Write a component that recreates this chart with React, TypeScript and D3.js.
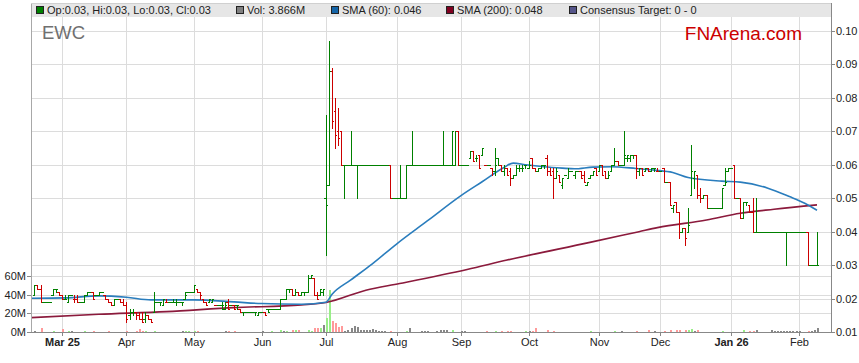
import * as d3 from "d3";

// first bar: Tue 18 Feb 2025, one bar per weekday
const START_DATE = new Date(2025, 1, 18);

// daily bars [open, high, low, close] in 0.001 A$
const OHLC_FEB25 = [
  [21, 24, 21, 24], [24, 24, 23, 23], [23, 24, 19, 19], [19, 19, 19, 19], [19, 19, 19, 19],
  [19, 19, 19, 19], [21, 23, 21, 23], [23, 23, 22, 23], [22, 22, 21, 21],
];
const OHLC_MAR25 = [
  [21, 21, 20, 20], [20, 21, 20, 20], [19, 21, 19, 21], [21, 21, 21, 21], [20, 21, 19, 20],
  [20, 21, 19, 19], [19, 19, 19, 19], [19, 21, 19, 21], [21, 22, 21, 22], [22, 22, 22, 22],
  [22, 22, 20, 20], [21, 21, 21, 21], [21, 22, 21, 22], [22, 22, 22, 22], [21, 21, 20, 20],
  [20, 20, 19, 19], [19, 19, 18, 18], [18, 20, 18, 20], [20, 20, 20, 20], [20, 20, 19, 19],
  [19, 20, 18, 18],
];
const OHLC_APR25 = [
  [18, 19, 13, 14], [15, 17, 14, 16], [16, 17, 15, 16], [16, 16, 14, 15], [15, 16, 14, 14],
  [14, 16, 13, 13], [14, 16, 13, 15], [15, 15, 14, 14], [14, 14, 13, 13], [16, 22, 16, 19],
  [19, 19, 19, 19], [19, 19, 18, 19], [18, 20, 18, 20], [19, 20, 19, 19], [19, 19, 19, 19],
  [19, 20, 19, 19], [19, 20, 18, 19], [19, 19, 19, 19], [19, 19, 18, 19], [20, 22, 20, 21],
  [22, 22, 22, 22], [22, 22, 22, 22],
];
const OHLC_MAY25 = [
  [22, 24, 22, 24], [23, 23, 22, 22], [22, 22, 20, 21], [20, 20, 19, 19], [19, 19, 18, 18],
  [19, 20, 19, 20], [19, 20, 19, 20], [18, 18, 18, 18], [18, 18, 18, 18], [18, 19, 17, 18],
  [17, 19, 17, 18], [19, 20, 17, 17], [18, 18, 18, 18], [18, 18, 17, 17], [18, 18, 17, 18],
  [17, 17, 16, 16], [16, 16, 15, 16], [16, 16, 16, 16], [16, 16, 16, 16], [16, 16, 16, 16],
  [16, 16, 15, 16], [15, 16, 15, 16],
];
const OHLC_JUN25 = [
  [16, 16, 16, 16], [16, 16, 15, 15], [17, 17, 16, 16], [17, 17, 17, 17], [17, 17, 17, 17],
  [17, 17, 17, 17], [17, 20, 17, 20], [20, 20, 20, 20], [20, 23, 20, 23], [23, 23, 22, 23],
  [23, 23, 21, 21], [21, 23, 21, 22], [22, 22, 21, 21], [21, 22, 21, 22], [22, 22, 21, 22],
  [22, 27, 22, 26], [26, 27, 26, 27], [26, 26, 21, 21], [21, 22, 20, 20], [21, 23, 21, 23],
  [22, 23, 21, 23],
];
const OHLC_JUL25 = [
  [50, 75, 33, 48], [54, 97, 54, 88], [88, 89, 71, 73], [76, 80, 65, 69], [70, 77, 66, 68],
  [70, 70, 60, 60], [60, 60, 50, 60], [60, 60, 60, 60], [60, 70, 60, 60], [60, 60, 60, 60],
  [60, 60, 50, 60], [60, 60, 60, 60], [60, 60, 60, 60], [60, 60, 60, 60], [60, 60, 60, 60],
  [60, 60, 60, 60], [60, 60, 60, 60], [60, 60, 60, 60], [60, 60, 60, 60], [60, 60, 60, 60],
  [60, 60, 60, 60], [60, 60, 50, 50], [50, 50, 50, 50],
];
const OHLC_AUG25 = [
  [50, 50, 50, 50], [50, 60, 50, 50], [50, 50, 50, 50], [50, 60, 50, 60], [60, 60, 60, 60],
  [60, 70, 60, 60], [60, 60, 60, 60], [60, 60, 60, 60], [60, 60, 60, 60], [60, 60, 60, 60],
  [60, 60, 60, 60], [60, 60, 60, 60], [60, 60, 60, 60], [60, 60, 60, 60], [60, 60, 60, 60],
  [60, 70, 60, 60], [60, 60, 60, 60], [60, 60, 60, 60], [60, 70, 60, 70], [60, 70, 60, 70],
  [70, 70, 60, 60],
];
const OHLC_SEP25 = [
  [60, 60, 60, 60], [60, 60, 60, 60], [60, 60, 60, 60], [62, 64, 62, 64], [64, 64, 61, 61],
  [62, 63, 61, 62], [63, 63, 59, 59], [63, 65, 63, 65], [60, 60, 60, 60], [60, 60, 60, 60],
  [59, 59, 57, 58], [58, 65, 57, 60], [62, 62, 60, 60], [60, 60, 58, 58], [58, 60, 57, 59],
  [59, 59, 57, 57], [58, 59, 54, 56], [56, 57, 56, 57], [57, 60, 57, 59], [59, 60, 58, 59],
  [59, 60, 58, 59], [60, 60, 59, 60],
];
const OHLC_OCT25 = [
  [59, 61, 59, 60], [62, 62, 59, 59], [59, 59, 58, 58], [58, 59, 58, 59], [59, 60, 59, 60],
  [60, 60, 59, 60], [62, 63, 57, 58], [58, 59, 57, 57], [58, 59, 50, 56], [56, 59, 56, 58],
  [57, 57, 55, 55], [54, 56, 53, 56], [57, 57, 57, 57], [56, 59, 56, 58], [58, 58, 58, 58],
  [57, 58, 56, 58], [58, 58, 58, 58], [58, 58, 56, 56], [57, 58, 55, 55], [54, 55, 54, 55],
  [56, 57, 56, 57], [57, 58, 57, 58], [59, 59, 57, 57],
];
const OHLC_NOV25 = [
  [58, 60, 58, 60], [60, 60, 57, 57], [58, 58, 56, 56], [56, 58, 56, 57], [58, 60, 58, 60],
  [60, 65, 60, 61], [61, 61, 60, 60], [60, 60, 60, 60], [60, 70, 60, 63], [62, 63, 61, 63],
  [62, 63, 61, 63], [63, 63, 62, 63], [63, 63, 56, 59], [58, 59, 57, 59], [59, 59, 57, 57],
  [58, 59, 58, 59], [59, 59, 58, 58], [58, 59, 58, 59], [59, 59, 58, 59], [58, 59, 58, 58],
];
const OHLC_DEC25 = [
  [58, 58, 58, 58], [59, 59, 55, 55], [55, 55, 55, 55], [55, 55, 48, 48], [47, 48, 46, 48],
  [49, 49, 46, 46], [46, 46, 38, 40], [40, 41, 40, 41], [41, 41, 36, 38], [40, 47, 40, 42],
  [51, 66, 51, 58], [56, 58, 53, 58], [57, 57, 50, 51], [51, 53, 49, 50], [50, 51, 50, 51],
  [51, 51, 47, 47], [47, 47, 47, 47], [47, 47, 47, 47], [47, 47, 47, 47], [47, 47, 47, 47],
  [47, 53, 47, 53], [54, 59, 54, 55], [58, 59, 58, 59],
];
const OHLC_JAN26 = [
  [59, 59, 59, 59], [60, 60, 50, 50], [50, 50, 50, 50], [50, 50, 44, 44], [44, 49, 44, 49],
  [49, 49, 48, 49], [48, 48, 46, 46], [46, 50, 40, 40], [40, 50, 40, 40], [40, 40, 40, 40],
  [40, 40, 40, 40], [40, 40, 40, 40], [40, 40, 40, 40], [40, 40, 40, 40], [40, 40, 40, 40],
  [40, 40, 40, 40], [40, 40, 40, 40], [40, 40, 40, 40], [40, 40, 30, 40], [40, 40, 40, 40],
  [40, 40, 40, 40], [40, 40, 40, 40],
];
const OHLC_FEB26 = [
  [40, 40, 40, 40], [40, 40, 40, 40], [40, 40, 40, 40], [40, 40, 30, 30], [30, 30, 30, 30],
  [30, 30, 30, 30], [30, 40, 30, 30],
];

// daily volume, millions
const VOL_FEB25 = [1.0, 0.3, 4.0, 0.2, 0.2, 0.3, 1.0, 0.5, 0.3];
const VOL_MAR25 = [3.0, 0.2, 1.0, 0.8, 0.2, 0.3, 0.2, 1.0, 0.5, 0.2, 1.0, 0.3, 0.2, 0.2, 0.3, 1.0, 0.5, 0.2, 0.3, 0.2, 0.4];
const VOL_APR25 = [0.8, 0.3, 0.5, 0.6, 3.5, 0.8, 0.8, 0.3, 0.3, 1.0, 0.3, 0.2, 0.2, 0.3, 0.2, 0.2, 0.2, 0.2, 0.8, 0.8, 0.8, 0.3];
const VOL_MAY25 = [0.8, 0.8, 0.3, 0.2, 0.2, 0.3, 0.2, 0.2, 0.2, 0.3, 0.9, 0.9, 0.2, 0.8, 0.2, 0.3, 0.2, 0.2, 0.2, 0.2, 0.2, 0.3];
const VOL_JUN25 = [0.9, 0.2, 0.3, 1.0, 0.3, 0.3, 2.5, 1.0, 1.2, 0.5, 2.5, 2.0, 2.0, 0.5, 0.5, 2.5, 0.8, 4.0, 4.0, 4.0, 7.5];
const VOL_JUL25 = [15, 45, 12, 10, 5.7, 6.5, 1.4, 2.0, 4.0, 6.5, 5.7, 2.0, 2.0, 2.0, 2.0, 3.0, 2.0, 1.0, 1.0, 1.0, 0.5, 1.4, 0.2];
const VOL_AUG25 = [0.2, 0.2, 0.2, 1.4, 4.0, 0.2, 0.2, 0.2, 1.0, 1.0, 1.0, 0.2, 0.2, 1.5, 2.0, 2.0, 2.2, 0.2, 2.0, 0.3, 0.2];
const VOL_SEP25 = [1.4, 1.4, 0.2, 0.3, 0.3, 0.3, 0.3, 0.3, 1.4, 0.3, 0.3, 1.4, 0.3, 1.4, 0.3, 1.4, 1.4, 0.3, 0.3, 0.3, 0.3, 1.0];
const VOL_OCT25 = [1.0, 1.4, 4.0, 0.2, 0.2, 0.3, 2.0, 0.3, 1.4, 0.2, 0.2, 0.2, 0.2, 0.2, 0.2, 0.2, 0.2, 0.2, 0.2, 0.2, 1.4, 0.2, 0.2];
const VOL_NOV25 = [0.2, 0.2, 0.2, 0.2, 0.2, 1.4, 0.2, 1.4, 0.2, 0.2, 0.2, 0.2, 1.4, 0.2, 0.2, 0.2, 2.0, 0.2, 1.4, 0.2];
const VOL_DEC25 = [0.2, 1.4, 0.2, 2.5, 0.2, 2.5, 2.5, 0.3, 2.0, 2.0, 3.0, 1.4, 2.5, 0.3, 0.3, 0.3, 0.2, 0.2, 0.2, 0.2, 1.4, 0.2, 0.2];
const VOL_JAN26 = [0.2, 0.2, 0.2, 0.2, 2.5, 0.3, 1.4, 1.4, 2.5, 0.2, 0.2, 0.2, 0.2, 2.0, 1.4, 1.4, 1.4, 1.4, 1.4, 1.4, 1.4, 1.4];
const VOL_FEB26 = [1.4, 0.2, 0.2, 1.4, 1.4, 2.5, 3.866];

// moving averages (bar index, value in 0.001 A$)
const SMA60_POS = [-1, 10, 21, 30, 38, 52, 65, 74, 87, 95, 97, 103, 110, 118, 128, 139, 146, 153, 156, 160, 166, 172, 176, 182, 188, 196, 202, 208, 213, 224, 230, 239, 246, 251, 255];
const SMA60 = [20.1, 20.2, 20.8, 20.4, 19.6, 19.6, 19.0, 18.5, 18.3, 18.9, 21.3, 25.5, 30.3, 36.3, 43.2, 50.8, 55.0, 59.2, 60.5, 60.0, 59.4, 59.0, 58.8, 59.3, 59.4, 58.9, 58.4, 57.7, 56.2, 55.1, 54.8, 53.0, 50.5, 48.5, 46.4];
const SMA200_POS = [-1, 21, 43, 65, 87, 95, 108, 119, 141, 154, 181, 197, 203, 219, 230, 241, 255];
const SMA200 = [14.3, 15.3, 16.1, 17.3, 18.1, 18.8, 22.5, 24.5, 28.7, 31.5, 36.8, 40.0, 41.2, 43.5, 45.5, 46.7, 48.0];

const PRICE_TICKS = [0.01, 0.02, 0.03, 0.04, 0.05, 0.06, 0.07, 0.08, 0.09, 0.1];
const VOL_TICKS = [0, 20, 40, 60];

const LEGEND = [
  { x: 36, color: "#008000", text: "Op:0.03, Hi:0.03, Lo:0.03, Cl:0.03" },
  { x: 236, color: "#808080", text: "Vol: 3.866M" },
  { x: 331, color: "#1565a8", text: "SMA (60): 0.046" },
  { x: 446, color: "#800020", text: "SMA (200): 0.048" },
  { x: 569, color: "#55558a", text: "Consensus Target: 0 - 0" },
];

const OHLC = [
  ...OHLC_FEB25, ...OHLC_MAR25, ...OHLC_APR25, ...OHLC_MAY25, ...OHLC_JUN25, ...OHLC_JUL25,
  ...OHLC_AUG25, ...OHLC_SEP25, ...OHLC_OCT25, ...OHLC_NOV25, ...OHLC_DEC25, ...OHLC_JAN26, ...OHLC_FEB26,
];
const VOLUME = [
  ...VOL_FEB25, ...VOL_MAR25, ...VOL_APR25, ...VOL_MAY25, ...VOL_JUN25, ...VOL_JUL25,
  ...VOL_AUG25, ...VOL_SEP25, ...VOL_OCT25, ...VOL_NOV25, ...VOL_DEC25, ...VOL_JAN26, ...VOL_FEB26,
];

const WIDTH = 859;
const HEIGHT = 363;
const PLOT = { left: 31, right: 831, top: 3, bottom: 332 };
const FONT = "'Liberation Sans', Arial, Helvetica, sans-serif";
const UP = "#008000";
const DOWN = "#cc0000";

export default function App() {
  // weekday dates for each bar
  const dates: Date[] = [];
  const d = new Date(START_DATE);
  while (dates.length < OHLC.length) {
    if (d.getDay() !== 0 && d.getDay() !== 6) dates.push(new Date(d));
    d.setDate(d.getDate() + 1);
  }

  const x = d3.scaleLinear().domain([0, 255]).range([34.4, 817.0]);
  const y = d3.scaleLinear().domain([0.01, 0.1]).range([PLOT.bottom, 31]);
  const yVol = d3.scaleLinear().domain([0, 60]).range([PLOT.bottom, 276.2]);

  // first trading day of each month
  const monthTicks: { j: number; date: Date }[] = [];
  dates.forEach((dt, j) => {
    if (j > 0 && dt.getMonth() !== dates[j - 1].getMonth()) monthTicks.push({ j, date: dt });
  });

  const smaLine = (pos: number[]) =>
    d3
      .line<number>()
      .x((_, k) => x(pos[k]))
      .y((v) => y(v / 1000))
      .curve(d3.curveMonotoneX);

  const py = (v: number) => Math.round(y(v / 1000));

  const bars = OHLC.map(([o, h, l, c], j) => {
    const prev = j > 0 ? OHLC[j - 1][3] : o;
    const color = c >= prev ? UP : DOWN;
    const px = Math.round(x(j));
    const lft = Math.round(x(j) - 1.535);
    const rgt = Math.round(x(j) + 1.535);
    const yh = py(h);
    const yl = py(l);
    return (
      <g key={j} fill={color}>
        <rect x={px} y={yh} width={1} height={Math.max(1, yl - yh + 1)} />
        <rect x={lft} y={py(o)} width={Math.max(1, px - lft)} height={1} />
        <rect x={px + 1} y={py(c)} width={Math.max(1, rgt - px - 1)} height={1} />
      </g>
    );
  });

  const volBars = VOLUME.map((v, j) => {
    const c = OHLC[j][3];
    const prev = j > 0 ? OHLC[j - 1][3] : c;
    const fill = c > prev ? "#99ee88" : c < prev ? "#ff9a9a" : "#888888";
    const top = yVol(v);
    return (
      <rect key={j} x={Math.round(x(j))} y={top} width={2} height={PLOT.bottom - top} fill={fill} />
    );
  });

  const fmtFull = d3.timeFormat("%b %y");
  const fmtMonth = d3.timeFormat("%b");

  return (
    <div style={{ position: "absolute", left: 0, top: 0 }}>
      <svg width={WIDTH} height={HEIGHT} style={{ display: "block", fontFamily: FONT }}>
        <defs>
          <clipPath id="plot-clip">
            <rect x={PLOT.left} y={PLOT.top} width={PLOT.right - PLOT.left} height={PLOT.bottom - PLOT.top} />
          </clipPath>
        </defs>
        <rect width={WIDTH} height={HEIGHT} fill="#ffffff" />

        {/* grid */}
        <g shapeRendering="crispEdges" stroke="#dcdcdc">
          {monthTicks.map((t) => (
            <line key={t.j} x1={Math.round(x(t.j)) + 0.5} x2={Math.round(x(t.j)) + 0.5} y1={PLOT.top} y2={PLOT.bottom} />
          ))}
          {PRICE_TICKS.slice(1).map((p) => (
            <line key={p} x1={PLOT.left} x2={PLOT.right} y1={Math.round(y(p)) + 0.5} y2={Math.round(y(p)) + 0.5} />
          ))}
          {VOL_TICKS.slice(1).map((v) => (
            <line key={v} x1={PLOT.left} x2={PLOT.right} y1={Math.round(yVol(v)) + 0.5} y2={Math.round(yVol(v)) + 0.5} />
          ))}
        </g>

        {/* legend band */}
        <rect x={PLOT.left} y={PLOT.top} width={PLOT.right - PLOT.left} height={14} fill="#e6e6e6" />
        {LEGEND.map((item) => (
          <g key={item.text}>
            <rect x={item.x + 0.5} y={6.5} width={7} height={7} fill={item.color} stroke="#222" strokeWidth={1} />
            <text x={item.x + 11} y={14} fontSize={11} fill="#222">
              {item.text}
            </text>
          </g>
        ))}

        <text x={42} y={39} fontSize={18.5} fill="#707070">
          EWC
        </text>
        <text x={802} y={40} fontSize={19} fill="#cc0000" textAnchor="end">
          FNArena.com
        </text>

        <g clipPath="url(#plot-clip)">
          <g shapeRendering="crispEdges">{volBars}</g>
          <path d={smaLine(SMA200_POS)(SMA200) ?? ""} fill="none" stroke="#8b1a3c" strokeWidth={1.6} />
          <path d={smaLine(SMA60_POS)(SMA60) ?? ""} fill="none" stroke="#2a7dbd" strokeWidth={1.6} />
          <g shapeRendering="crispEdges">{bars}</g>
        </g>

        {/* frame and axes */}
        <g shapeRendering="crispEdges" fill="none">
          <line x1={PLOT.left + 0.5} x2={PLOT.left + 0.5} y1={PLOT.top} y2={PLOT.bottom} stroke="#a8a8a8" />
          <line x1={PLOT.left} x2={PLOT.right} y1={PLOT.top + 0.5} y2={PLOT.top + 0.5} stroke="#d0d0d0" />
          <line x1={PLOT.right + 0.5} x2={PLOT.right + 0.5} y1={PLOT.top} y2={PLOT.bottom + 1} stroke="#888" />
          <line x1={PLOT.left} x2={PLOT.right + 1} y1={PLOT.bottom + 0.5} y2={PLOT.bottom + 0.5} stroke="#888" />
        </g>

        {/* right price axis */}
        <g fontSize={11} fill="#222">
          {PRICE_TICKS.map((p) => (
            <g key={p}>
              <line x1={PLOT.right} x2={PLOT.right + 4} y1={Math.round(y(p)) + 0.5} y2={Math.round(y(p)) + 0.5} stroke="#888" shapeRendering="crispEdges" />
              <text x={PLOT.right + 5} y={y(p) + 4}>
                {p.toFixed(2)}
              </text>
            </g>
          ))}
        </g>

        {/* left volume axis */}
        <g fontSize={11} fill="#222">
          {VOL_TICKS.map((v) => (
            <g key={v}>
              <line x1={PLOT.left - 4} x2={PLOT.left} y1={Math.round(yVol(v)) + 0.5} y2={Math.round(yVol(v)) + 0.5} stroke="#888" shapeRendering="crispEdges" />
              <text x={PLOT.left - 5} y={yVol(v) + 4} textAnchor="end">
                {`${v}M`}
              </text>
            </g>
          ))}
        </g>

        {/* bottom date axis */}
        <g fontSize={11} fill="#222">
          {monthTicks.map((t, k) => {
            const xx = Math.round(x(t.j)) + 0.5;
            const full = k === 0 || t.date.getMonth() === 0;
            return (
              <g key={t.j}>
                <line x1={xx} x2={xx} y1={PLOT.bottom} y2={PLOT.bottom + 4} stroke="#888" shapeRendering="crispEdges" />
                <text x={xx} y={346} textAnchor="middle" fontWeight={full ? "bold" : "normal"}>
                  {full ? fmtFull(t.date) : fmtMonth(t.date)}
                </text>
              </g>
            );
          })}
        </g>
      </svg>
    </div>
  );
}
